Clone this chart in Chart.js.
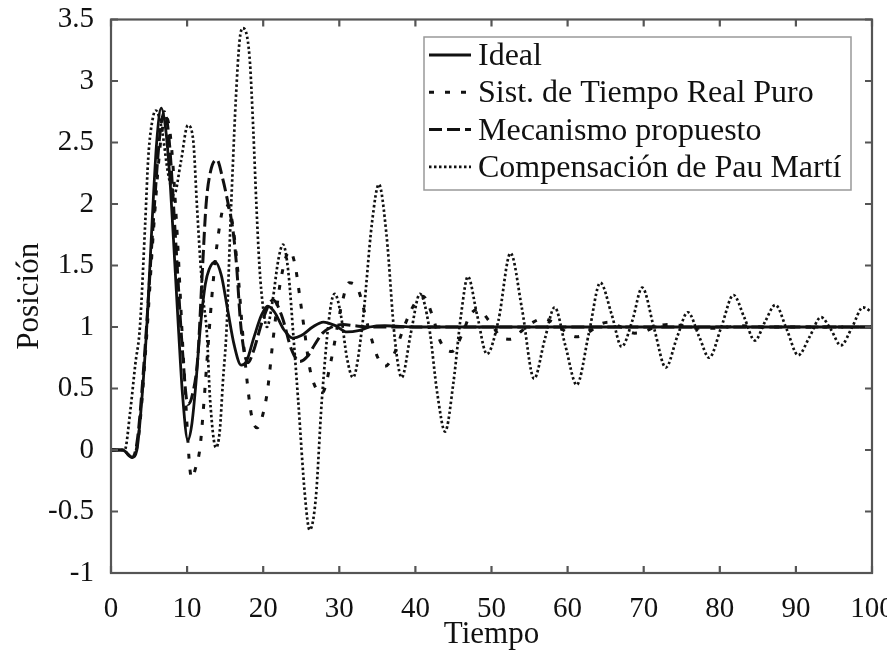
<!DOCTYPE html>
<html>
<head>
<meta charset="utf-8">
<script src="https://cdn.jsdelivr.net/npm/chart.js@4"></script>
<style>
  body { margin: 0; background: #fff; }
</style>
</head>
<body>
<canvas id="myChart" width="887" height="653"></canvas>
<script>
const xTicks = [0, 10, 20, 30, 40, 50, 60, 70, 80, 90, 100];
const yTicks = [-1, -0.5, 0, 0.5, 1, 1.5, 2, 2.5, 3, 3.5];
const yTickLabels = ["-1", "-0.5", "0", "0.5", "1", "1.5", "2", "2.5", "3", "3.5"];

const seriesNames = [
  "Ideal",
  "Sist. de Tiempo Real Puro",
  "Mecanismo propuesto",
  "Compensación de Pau Martí",
];

// Ideal
const idealT = [0, 1.5, 2.8, 3.4, 4.1, 4.7, 5.4, 6.0, 6.6, 7.2, 7.8, 8.4, 8.9, 9.4, 10.1, 10.6, 11.1, 11.7,
  12.4, 12.9, 13.7, 14.5, 15.3, 16.2, 17.1, 17.8, 18.8, 19.8, 20.6, 21.5, 22.7, 23.9, 25.0, 26.5, 27.9,
  29.5, 31.0, 32.5, 34.0, 36.0, 40.0, 100];
const idealY = [0, 0, -0.06, 0, 0.45, 1.0, 1.85, 2.5, 2.78, 2.6, 2.15, 1.5, 0.95, 0.45, 0.08, 0.2, 0.5, 0.97,
  1.35, 1.47, 1.53, 1.42, 1.15, 0.85, 0.69, 0.72, 0.92, 1.1, 1.17, 1.12, 0.98, 0.91, 0.93, 1.0, 1.04,
  1.01, 0.96, 0.97, 1.0, 1.01, 1.0, 1.0];

// Sist. de Tiempo Real Puro
const sistT = [0, 1.5, 2.8, 3.6, 4.6, 5.6, 6.6, 7.3, 7.9, 8.7, 9.6, 10.6, 11.1, 11.7, 12.2, 12.7, 13.4,
  14.1, 15.0, 15.8, 16.6, 17.3, 17.9, 18.5, 19.2, 20.0, 20.6, 21.3, 22.3, 23.5, 24.2, 24.8, 25.4, 26.1,
  26.8, 27.7, 29.0, 30.2, 31.3, 32.5, 33.8, 35.0, 36.0, 37.2, 38.5, 40.0, 41.0, 42.2, 43.3, 44.8, 46.2,
  47.2, 48.2, 49.8, 51.2, 52.5, 54.0, 55.5, 56.8, 58.5, 60.0, 61.2, 62.8, 64.2, 65.4, 67.0, 68.8, 70.0,
  71.5, 73.2, 75.0, 77.0, 79.0, 81.0, 83.0, 86.0, 100];
const sistY = [0, 0, -0.06, 0.1, 0.85, 1.8, 2.55, 2.7, 2.5, 1.75, 0.65, -0.23, -0.15, 0.02, 0.38, 0.8, 1.35,
  1.75, 2.0, 1.9, 1.5, 0.95, 0.55, 0.27, 0.18, 0.3, 0.5, 0.9, 1.38, 1.62, 1.5, 1.25, 0.98, 0.67,
  0.52, 0.46, 0.75, 1.15, 1.36, 1.3, 1.0, 0.76, 0.68, 0.78, 1.0, 1.2, 1.25, 1.1, 0.88, 0.8, 0.95,
  1.1, 1.14, 1.04, 0.92, 0.9, 0.97, 1.04, 1.07, 1.02, 0.95, 0.92, 0.96, 1.02, 1.04, 1.0, 0.95, 0.96,
  1.0, 1.02, 1.01, 0.99, 0.99, 1.0, 1.01, 1.0, 1.0];

// Mecanismo propuesto
const mecT = [0, 1.5, 2.8, 3.5, 4.5, 5.5, 6.4, 7.0, 7.6, 8.5, 9.4, 10.1, 10.7, 11.4, 12.0, 12.5, 13.1,
  13.9, 14.7, 15.4, 16.0, 16.5, 17.0, 17.5, 18.0, 18.7, 19.9, 21.3, 22.5, 23.7, 24.8, 25.8, 26.8, 27.8,
  29.0, 30.5, 32.0, 34.0, 100];
const mecY = [0, 0, -0.06, 0.1, 0.85, 1.8, 2.55, 2.75, 2.55, 1.7, 0.8, 0.37, 0.45, 0.75, 1.45, 2.0, 2.27,
  2.36, 2.2, 2.0, 1.8, 1.5, 1.05, 0.8, 0.71, 0.8, 1.05, 1.22, 1.08, 0.82, 0.72, 0.76, 0.86, 0.95,
  1.0, 1.02, 1.01, 1.0, 1.0];

// Compensación de Pau Martí
const pauT = [0, 1.8, 2.5, 3.2, 3.8, 4.5, 4.9, 5.5, 5.9, 6.7, 7.5, 8.3, 9.2, 10.1, 10.8, 11.3, 11.7, 12.1,
  12.6, 13.0, 13.8, 14.3, 14.7, 15.2, 15.7, 16.0, 16.4, 16.9, 17.3, 18.2, 18.7, 19.1, 19.5, 20.0, 20.5,
  21.2, 22.0, 22.6, 23.3, 24.0, 24.6, 25.5, 26.1, 26.9, 27.7, 28.8, 29.4, 30.2, 31.0, 31.8, 33.0, 34.3,
  35.2, 36.2, 37.3, 38.2, 39.4, 40.6, 41.8, 42.9, 43.9, 45.0, 46.0, 46.9, 48.1, 49.4, 50.9, 52.5, 54.0,
  55.6, 57.0, 58.3, 59.7, 61.2, 62.8, 64.3, 65.8, 67.1, 68.5, 69.8, 71.4, 72.9, 74.4, 75.8, 77.3, 78.6,
  80.2, 81.8, 83.2, 84.6, 86.0, 87.3, 88.8, 90.3, 91.8, 93.3, 94.6, 95.9, 97.4, 98.8, 100];
const pauY = [0, 0, 0.3, 0.7, 1.0, 1.85, 2.38, 2.7, 2.76, 2.6, 2.25, 2.08, 2.35, 2.64, 2.52, 1.98, 1.57, 1.24,
  0.95, 0.43, 0.02, 0.16, 0.55, 1.0, 1.85, 2.3, 2.85, 3.33, 3.43, 3.2, 2.6, 2.0, 1.5, 1.15, 1.0,
  1.2, 1.55, 1.67, 1.45, 0.9, 0.4, -0.38, -0.65, -0.4, 0.4, 1.14, 1.27, 1.1, 0.75, 0.59, 1.0, 1.85,
  2.16, 1.75, 0.9, 0.59, 0.95, 1.27, 1.0, 0.45, 0.15, 0.55, 1.1, 1.41, 1.1, 0.78, 1.05, 1.6, 1.15,
  0.58, 0.9, 1.16, 0.85, 0.53, 0.95, 1.36, 1.1, 0.84, 1.05, 1.32, 0.98, 0.67, 0.92, 1.12, 0.92, 0.75,
  1.0, 1.26, 1.08, 0.89, 1.05, 1.18, 0.98, 0.77, 0.92, 1.08, 0.98, 0.85, 1.0, 1.16, 1.12];

const FONT = "'Liberation Serif', 'Times New Roman', serif";

function toPoints(ts, ys) {
  return ts.map((t, i) => ({ x: t, y: ys[i] }));
}

function makeDataset(label, ts, ys, dash, width) {
  return {
    label: label,
    data: toPoints(ts, ys),
    borderColor: "#111",
    borderWidth: width,
    borderDash: dash,
    pointRadius: 0,
    fill: false,
    cubicInterpolationMode: "monotone",
  };
}

// frame with inward ticks on all four sides
const framePlugin = {
  id: "frame",
  afterDraw(chart) {
    const { ctx, chartArea: a, scales } = chart;
    const len = 7;
    ctx.save();
    ctx.strokeStyle = "#555";
    ctx.lineWidth = 2.2;
    ctx.strokeRect(a.left, a.top, a.right - a.left, a.bottom - a.top);
    ctx.beginPath();
    xTicks.forEach((v) => {
      const px = scales.x.getPixelForValue(v);
      ctx.moveTo(px, a.bottom);
      ctx.lineTo(px, a.bottom - len);
      ctx.moveTo(px, a.top);
      ctx.lineTo(px, a.top + len);
    });
    yTicks.forEach((v) => {
      const py = scales.y.getPixelForValue(v);
      ctx.moveTo(a.left, py);
      ctx.lineTo(a.left + len, py);
      ctx.moveTo(a.right, py);
      ctx.lineTo(a.right - len, py);
    });
    ctx.stroke();
    ctx.restore();
  },
};

// boxed legend inside the plot, upper right
const legendPlugin = {
  id: "boxLegend",
  afterDatasetsDraw(chart) {
    const ctx = chart.ctx;
    const box = { x: 424, y: 37, w: 427, h: 153 };
    ctx.save();
    ctx.fillStyle = "#fff";
    ctx.fillRect(box.x, box.y, box.w, box.h);
    ctx.strokeStyle = "#999";
    ctx.lineWidth = 1.5;
    ctx.strokeRect(box.x, box.y, box.w, box.h);
    ctx.font = "32px " + FONT;
    ctx.fillStyle = "#111";
    ctx.textBaseline = "alphabetic";
    chart.data.datasets.forEach((ds, i) => {
      const base = 65 + i * 37.3;
      const ly = base - 10;
      ctx.save();
      ctx.strokeStyle = ds.borderColor;
      ctx.lineWidth = ds.borderWidth;
      ctx.setLineDash(ds.borderDash || []);
      ctx.beginPath();
      ctx.moveTo(429, ly);
      ctx.lineTo(471, ly);
      ctx.stroke();
      ctx.restore();
      ctx.fillText(ds.label, 478, base);
    });
    ctx.restore();
  },
};

window.onload = function () {
  const ctx = document.getElementById("myChart");

  new Chart(ctx, {
    type: "line",
    data: {
      datasets: [
        makeDataset(seriesNames[0], idealT, idealY, [], 2.8),
        makeDataset(seriesNames[1], sistT, sistY, [5, 11], 3),
        makeDataset(seriesNames[2], mecT, mecY, [13, 5], 3),
        makeDataset(seriesNames[3], pauT, pauY, [2.5, 2.5], 2.7),
      ],
    },
    options: {
      responsive: false,
      animation: false,
      layout: { padding: { top: 19.5, right: 15, left: 0, bottom: 0 } },
      plugins: {
        legend: { display: false },
        tooltip: { enabled: false },
      },
      scales: {
        x: {
          type: "linear",
          min: 0,
          max: 100,
          afterBuildTicks: (scale) => {
            scale.ticks = xTicks.map((v) => ({ value: v }));
          },
          afterFit: (scale) => {
            scale.height = 80;
            scale.paddingLeft = 0;
            scale.paddingRight = 0;
          },
          ticks: {
            color: "#111",
            font: { family: FONT, size: 29 },
            padding: 11,
            maxRotation: 0,
            autoSkip: false,
          },
          grid: { display: false },
          border: { display: false },
          title: {
            display: true,
            text: "Tiempo",
            color: "#111",
            font: { family: FONT, size: 31 },
            padding: { top: 0, bottom: 0 },
          },
        },
        y: {
          type: "linear",
          min: -1,
          max: 3.5,
          afterBuildTicks: (scale) => {
            scale.ticks = yTicks.map((v) => ({ value: v }));
          },
          afterFit: (scale) => {
            scale.width = 111;
            scale.paddingTop = 0;
            scale.paddingBottom = 0;
          },
          ticks: {
            color: "#111",
            font: { family: FONT, size: 29 },
            padding: 9,
            autoSkip: false,
            callback: (value) => yTickLabels[yTicks.indexOf(value)],
          },
          grid: { display: false },
          border: { display: false },
          title: {
            display: true,
            text: "Posición",
            color: "#111",
            font: { family: FONT, size: 31 },
            padding: { top: 11, bottom: 0 },
          },
        },
      },
    },
    plugins: [legendPlugin, framePlugin],
  });
};
</script>
</body>
</html>
